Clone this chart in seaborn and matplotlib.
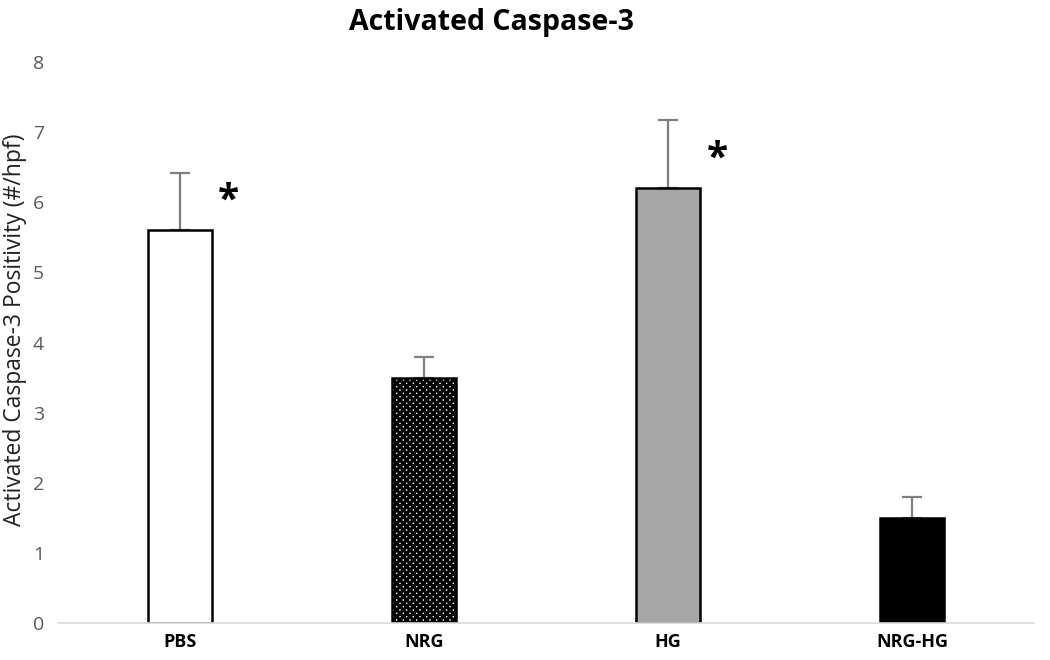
import matplotlib
matplotlib.use("Agg")
import matplotlib.pyplot as plt
import seaborn as sns
import pandas as pd
import numpy as np

categories = ["PBS", "NRG", "HG", "NRG-HG"]
means = [5.6, 3.5, 6.2, 1.5]
errors = [0.82, 0.3, 0.98, 0.3]
significant = [True, False, True, False]
y_ticks = [0, 1, 2, 3, 4, 5, 6, 7, 8]

sns.set_theme(style="white")
plt.rcParams['font.family'] = ['Open Sans', 'DejaVu Sans']
plt.rcParams['hatch.linewidth'] = 2.3

df = pd.DataFrame({"group": categories, "value": means})

fig = plt.figure(figsize=(10.5, 6.6), dpi=100)
ax = fig.add_axes([0.055, 0.056, 0.93, 0.85])

sns.barplot(data=df, x="group", y="value", order=categories, ax=ax,
            width=0.26, color="white", edgecolor="black", linewidth=1.8,
            errorbar=None)

faces = ["white", "white", "#a6a6a6", "black"]
hatches = [None, "xxxxx", None, None]
for patch, fc, h in zip(ax.patches, faces, hatches):
    patch.set_facecolor(fc)
    if h:
        patch.set_hatch(h)
    patch.set_zorder(2)

xs = np.arange(len(categories))
ax.errorbar(xs, means, yerr=[np.zeros(len(means)), errors], fmt="none",
            ecolor="#7f7f7f", elinewidth=1.6, capsize=7, capthick=1.6, zorder=1)

for x, m, e, s in zip(xs, means, errors, significant):
    if s:
        ax.text(x + 0.2, m + 0.42, "*", fontsize=28, fontweight="bold",
                ha="center", va="center", color="black")

ax.set_xlim(-0.5, 3.5)
ax.set_ylim(0, 8)
ax.set_yticks(y_ticks)
ax.set_yticklabels([str(t) for t in y_ticks], color="#595959", fontsize=14)
ax.tick_params(axis="y", length=0, pad=10)
ax.tick_params(axis="x", length=0, pad=7)
for lbl in ax.get_xticklabels():
    lbl.set_fontweight("bold")
    lbl.set_fontsize(13)
    lbl.set_color("black")

ax.set_xlabel("")
ax.set_ylabel("")
fig.text(0.014, 0.5, "Activated Caspase-3 Positivity (#/hpf)", rotation=90,
         ha="center", va="center", fontsize=16.5, color="#222222")
fig.text(0.468, 0.966, "Activated Caspase-3", ha="center", va="center",
         fontsize=20.5, fontweight="bold", color="black")

for side in ["top", "right", "left"]:
    ax.spines[side].set_visible(False)
ax.spines["bottom"].set_color("#d9d9d9")
ax.spines["bottom"].set_linewidth(1.2)

fig.savefig("out.png", dpi=100)
